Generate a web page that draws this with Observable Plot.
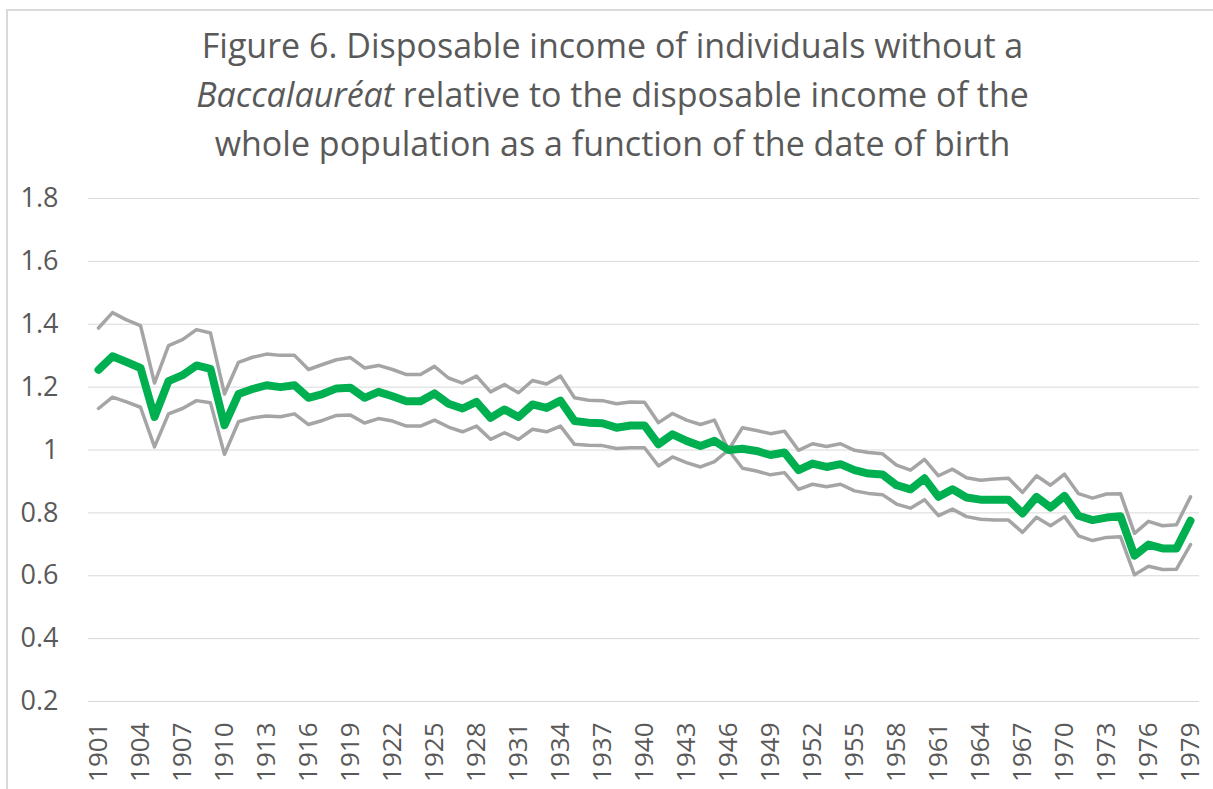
<!DOCTYPE html>
<html>
<head>
<meta charset="utf-8">
<script src="https://cdn.jsdelivr.net/npm/d3@7"></script>
<script src="https://cdn.jsdelivr.net/npm/@observablehq/plot@0.6"></script>
<style>
  html, body { margin: 0; padding: 0; background: #fff; }
  #wrap { position: relative; width: 1213px; height: 789px; overflow: hidden; font-family: "Open Sans", sans-serif; }
  #frame { position: absolute; left: 6px; top: 9px; width: 1230px; height: 820px; border: 2px solid #d9d9d9; box-sizing: border-box; }
  #title { position: absolute; left: 6px; width: 1213px; top: 21px; text-align: center; font-size: 34px; line-height: 49px; color: #595959; }
  #chart { position: absolute; left: 0; top: 170px; }
</style>
</head>
<body>
<div id="wrap">
  <div id="frame"></div>
  <div id="title">Figure 6. Disposable income of individuals without a<br><i>Baccalauréat</i> relative to the disposable income of the<br>whole population as a function of the date of birth</div>
  <div id="chart"></div>
</div>
<script>
const years = [1901,1902,1903,1904,1905,1906,1907,1908,1909,1910,1911,1912,1913,1914,1915,1916,1917,1918,1919,1920,
  1921,1922,1923,1924,1925,1926,1927,1928,1929,1930,1931,1932,1933,1934,1935,1936,1937,1938,1939,1940,
  1941,1942,1943,1944,1945,1946,1947,1948,1949,1950,1951,1952,1953,1954,1955,1956,1957,1958,1959,1960,
  1961,1962,1963,1964,1965,1966,1967,1968,1969,1970,1971,1972,1973,1974,1975,1976,1977,1978,1979];

const central = [1.255,1.298,1.280,1.261,1.105,1.219,1.238,1.269,1.258,1.079,1.178,1.194,1.206,1.200,1.206,1.166,1.178,1.196,1.198,1.166,
  1.185,1.171,1.155,1.155,1.180,1.147,1.132,1.153,1.102,1.129,1.105,1.145,1.134,1.157,1.092,1.087,1.085,1.071,1.078,1.078,
  1.018,1.050,1.029,1.013,1.029,1.000,1.004,0.997,0.984,0.992,0.936,0.957,0.946,0.955,0.936,0.925,0.922,0.888,0.875,0.910,
  0.851,0.875,0.849,0.842,0.842,0.842,0.798,0.851,0.817,0.854,0.791,0.777,0.785,0.789,0.664,0.699,0.687,0.687,0.775];

const upper = [1.388,1.437,1.414,1.396,1.213,1.332,1.351,1.383,1.372,1.178,1.279,1.295,1.305,1.301,1.301,1.256,1.272,1.287,1.294,1.261,
  1.269,1.256,1.240,1.240,1.266,1.229,1.213,1.235,1.185,1.208,1.182,1.221,1.210,1.235,1.166,1.158,1.157,1.147,1.153,1.152,
  1.087,1.116,1.095,1.081,1.095,1.000,1.071,1.062,1.052,1.060,0.999,1.020,1.011,1.020,0.999,0.992,0.988,0.952,0.936,0.970,
  0.918,0.939,0.912,0.904,0.908,0.910,0.865,0.918,0.888,0.923,0.861,0.847,0.860,0.861,0.735,0.773,0.759,0.762,0.851];

const lower = [1.132,1.168,1.153,1.136,1.010,1.115,1.132,1.157,1.150,0.986,1.090,1.102,1.108,1.106,1.115,1.081,1.094,1.110,1.111,1.086,
  1.100,1.092,1.076,1.076,1.095,1.073,1.058,1.076,1.034,1.055,1.034,1.066,1.058,1.076,1.018,1.015,1.014,1.005,1.007,1.007,
  0.949,0.978,0.960,0.946,0.963,1.000,0.942,0.933,0.921,0.928,0.875,0.891,0.883,0.891,0.870,0.862,0.858,0.828,0.815,0.842,
  0.791,0.812,0.788,0.780,0.777,0.777,0.738,0.786,0.759,0.788,0.727,0.712,0.722,0.724,0.603,0.630,0.620,0.621,0.699];

const xTickLabels = [1901,1904,1907,1910,1913,1916,1919,1922,1925,1928,1931,1934,1937,1940,1943,1946,1949,1952,1955,1958,1961,1964,1967,1970,1973,1976,1979];
const yTickLabels = [0.2,0.4,0.6,0.8,1,1.2,1.4,1.6,1.8];

const rows = years.map((y, i) => ({year: y, central: central[i], upper: upper[i], lower: lower[i]}));

const chart = Plot.plot({
  width: 1213,
  height: 619,
  marginLeft: 88,
  marginRight: 14,
  marginTop: 28,
  marginBottom: 88,
  style: {fontFamily: "'Open Sans', sans-serif", background: "transparent", overflow: "visible"},
  x: {type: "point", domain: years, padding: 0.5},
  y: {domain: [0.2, 1.8]},
  marks: [
    Plot.gridY(yTickLabels, {stroke: "#d9d9d9", strokeOpacity: 1, strokeWidth: 1}),
    Plot.axisY(yTickLabels, {tickSize: 0, tickPadding: 30, fontSize: 27, fill: "#595959", tickFormat: d => String(d), label: null}),
    Plot.axisX(xTickLabels, {tickSize: 0, tickPadding: 21, tickRotate: -90, fontSize: 26, fill: "#595959", tickFormat: d => String(d), label: null}),
    Plot.line(rows, {x: "year", y: "upper", stroke: "#a5a5a5", strokeWidth: 3.5, strokeLinejoin: "round", strokeLinecap: "round"}),
    Plot.line(rows, {x: "year", y: "lower", stroke: "#a5a5a5", strokeWidth: 3.5, strokeLinejoin: "round", strokeLinecap: "round"}),
    Plot.line(rows, {x: "year", y: "central", stroke: "#00b050", strokeWidth: 8, strokeLinejoin: "round", strokeLinecap: "round"})
  ]
});
document.getElementById("chart").appendChild(chart);
</script>
</body>
</html>
